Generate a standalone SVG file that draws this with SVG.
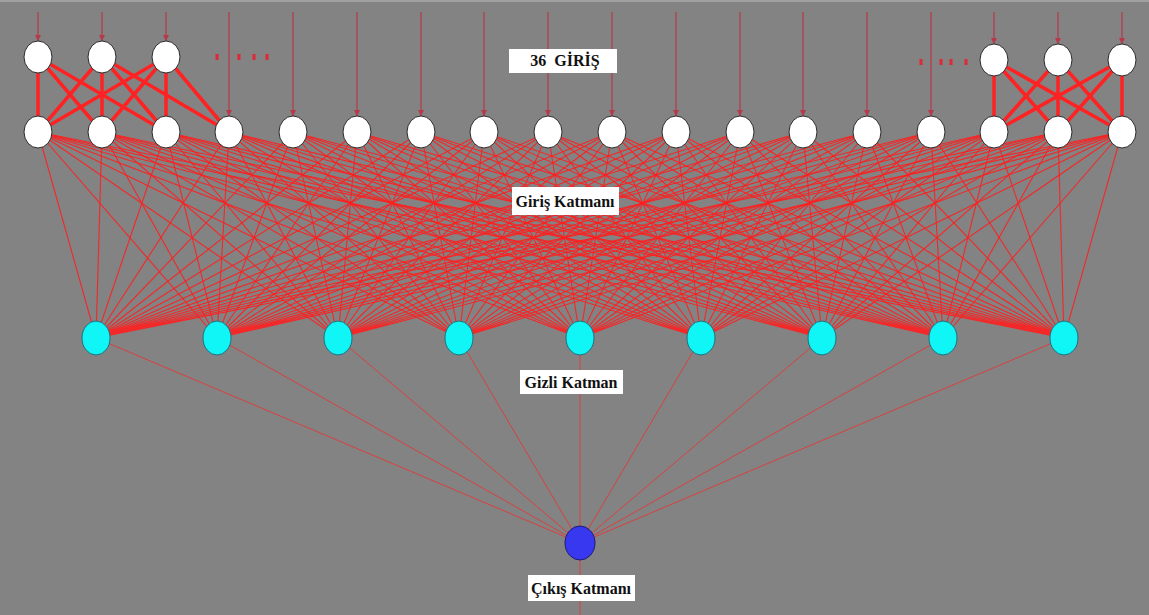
<svg xmlns="http://www.w3.org/2000/svg" width="1149" height="615" viewBox="0 0 1149 615">
  <style>
    .in { stroke: #b83848; stroke-width: 1.2; fill: none; }
    .mesh { stroke: #ff1e1e; stroke-width: 1.1; fill: none; stroke-opacity: 0.9; }
    .out { stroke: #d84040; stroke-width: 1; fill: none; }
    .thick { stroke: #ff2222; stroke-width: 3.5; fill: none; }
    .white { fill: #ffffff; stroke: #2a2a2a; stroke-width: 1; }
    .hidden { fill: #10f6f6; stroke: #1f6f7f; stroke-width: 1; }
    .output { fill: #3838f0; stroke: #1c1c70; stroke-width: 1; }
    .dot { fill: #e02838; }
    .box { fill: #ffffff; }
    .lbl { font-family: "Liberation Serif", "Times New Roman", serif; font-weight: bold; font-size: 16px; fill: #111111; text-anchor: middle; }
  </style>
  <defs>
    <marker id="arrow" viewBox="0 0 6 6" refX="6" refY="3" markerWidth="6" markerHeight="6" markerUnits="userSpaceOnUse" orient="auto">
      <path d="M0 0L6 3L0 6Z" fill="#b83848"/>
    </marker>
  </defs>

  <rect width="1149" height="615" fill="#838383"/>
  <rect width="1149" height="2" fill="#a0a0a0"/>

  <g id="connectors">
    <!-- input arrows into the first row -->
    <g id="input-arrows" class="in" marker-end="url(#arrow)">
      <path d="M38 12V41"/><path d="M102 12V41"/><path d="M166 12V41"/>
      <path d="M994 12V44"/><path d="M1058 12V44"/><path d="M1122 12V44"/>
      <path d="M229 12V116"/><path d="M293 12V116"/><path d="M357 12V116"/><path d="M421 12V116"/>
      <path d="M484 12V116"/><path d="M548 12V116"/><path d="M612 12V116"/><path d="M676 12V116"/>
      <path d="M740 12V116"/><path d="M803 12V116"/><path d="M867 12V116"/><path d="M931 12V116"/>
    </g>

    <!-- input layer to hidden layer, full mesh -->
    <g id="input-hidden" class="mesh">
      <path d="M38 132L96 338M102 132L96 338M166 132L96 338M229 132L96 338M293 132L96 338M357 132L96 338M421 132L96 338M484 132L96 338M548 132L96 338M612 132L96 338M676 132L96 338M740 132L96 338M803 132L96 338M867 132L96 338M931 132L96 338M994 132L96 338M1058 132L96 338M1122 132L96 338"/>
      <path d="M38 132L217 338M102 132L217 338M166 132L217 338M229 132L217 338M293 132L217 338M357 132L217 338M421 132L217 338M484 132L217 338M548 132L217 338M612 132L217 338M676 132L217 338M740 132L217 338M803 132L217 338M867 132L217 338M931 132L217 338M994 132L217 338M1058 132L217 338M1122 132L217 338"/>
      <path d="M38 132L338 338M102 132L338 338M166 132L338 338M229 132L338 338M293 132L338 338M357 132L338 338M421 132L338 338M484 132L338 338M548 132L338 338M612 132L338 338M676 132L338 338M740 132L338 338M803 132L338 338M867 132L338 338M931 132L338 338M994 132L338 338M1058 132L338 338M1122 132L338 338"/>
      <path d="M38 132L459 338M102 132L459 338M166 132L459 338M229 132L459 338M293 132L459 338M357 132L459 338M421 132L459 338M484 132L459 338M548 132L459 338M612 132L459 338M676 132L459 338M740 132L459 338M803 132L459 338M867 132L459 338M931 132L459 338M994 132L459 338M1058 132L459 338M1122 132L459 338"/>
      <path d="M38 132L580 338M102 132L580 338M166 132L580 338M229 132L580 338M293 132L580 338M357 132L580 338M421 132L580 338M484 132L580 338M548 132L580 338M612 132L580 338M676 132L580 338M740 132L580 338M803 132L580 338M867 132L580 338M931 132L580 338M994 132L580 338M1058 132L580 338M1122 132L580 338"/>
      <path d="M38 132L701 338M102 132L701 338M166 132L701 338M229 132L701 338M293 132L701 338M357 132L701 338M421 132L701 338M484 132L701 338M548 132L701 338M612 132L701 338M676 132L701 338M740 132L701 338M803 132L701 338M867 132L701 338M931 132L701 338M994 132L701 338M1058 132L701 338M1122 132L701 338"/>
      <path d="M38 132L822 338M102 132L822 338M166 132L822 338M229 132L822 338M293 132L822 338M357 132L822 338M421 132L822 338M484 132L822 338M548 132L822 338M612 132L822 338M676 132L822 338M740 132L822 338M803 132L822 338M867 132L822 338M931 132L822 338M994 132L822 338M1058 132L822 338M1122 132L822 338"/>
      <path d="M38 132L943 338M102 132L943 338M166 132L943 338M229 132L943 338M293 132L943 338M357 132L943 338M421 132L943 338M484 132L943 338M548 132L943 338M612 132L943 338M676 132L943 338M740 132L943 338M803 132L943 338M867 132L943 338M931 132L943 338M994 132L943 338M1058 132L943 338M1122 132L943 338"/>
      <path d="M38 132L1064 338M102 132L1064 338M166 132L1064 338M229 132L1064 338M293 132L1064 338M357 132L1064 338M421 132L1064 338M484 132L1064 338M548 132L1064 338M612 132L1064 338M676 132L1064 338M740 132L1064 338M803 132L1064 338M867 132L1064 338M931 132L1064 338M994 132L1064 338M1058 132L1064 338M1122 132L1064 338"/>
    </g>

    <!-- hidden layer to output node, and the output lead -->
    <g id="hidden-output" class="out">
      <path d="M96 338L580 543M217 338L580 543M338 338L580 543M459 338L580 543M580 338L580 543M701 338L580 543M822 338L580 543M943 338L580 543M1064 338L580 543"/>
      <path d="M580 543V615"/>
    </g>

    <!-- heavy links between the two upper rows -->
    <g id="top-links" class="thick">
      <path d="M38 57L38 132M38 57L102 132M38 57L166 132"/>
      <path d="M102 57L38 132M102 57L102 132M102 57L166 132M102 57L229 132"/>
      <path d="M166 57L38 132M166 57L102 132M166 57L166 132M166 57L229 132"/>
      <path d="M994 60L994 132M994 60L1058 132M994 60L1122 132"/>
      <path d="M1058 60L994 132M1058 60L1058 132M1058 60L1122 132"/>
      <path d="M1122 60L994 132M1122 60L1058 132M1122 60L1122 132"/>
    </g>
  </g>

  <!-- ellipsis marks -->
  <g id="dots-left" class="dot">
    <rect x="215.5" y="54" width="3" height="6"/>
    <rect x="237.5" y="54" width="3" height="6"/>
    <rect x="252.5" y="54" width="3" height="6"/>
    <rect x="265.5" y="54" width="3" height="6"/>
  </g>
  <g id="dots-right" class="dot">
    <rect x="919.5" y="59" width="3" height="6"/>
    <rect x="939.5" y="59" width="3" height="6"/>
    <rect x="949.5" y="59" width="3" height="6"/>
    <rect x="964.5" y="59" width="3" height="6"/>
  </g>

  <!-- top input row -->
  <g id="top-row">
    <g id="t1"><ellipse class="white" cx="38" cy="57" rx="14" ry="16"/></g>
    <g id="t2"><ellipse class="white" cx="102" cy="57" rx="14" ry="16"/></g>
    <g id="t3"><ellipse class="white" cx="166" cy="57" rx="14" ry="16"/></g>
    <g id="t4"><ellipse class="white" cx="994" cy="60" rx="14" ry="16"/></g>
    <g id="t5"><ellipse class="white" cx="1058" cy="60" rx="14" ry="16"/></g>
    <g id="t6"><ellipse class="white" cx="1122" cy="60" rx="14" ry="16"/></g>
  </g>

  <!-- input layer -->
  <g id="input-layer">
    <g id="i1"><ellipse class="white" cx="38" cy="132" rx="14" ry="16"/></g>
    <g id="i2"><ellipse class="white" cx="102" cy="132" rx="14" ry="16"/></g>
    <g id="i3"><ellipse class="white" cx="166" cy="132" rx="14" ry="16"/></g>
    <g id="i4"><ellipse class="white" cx="229" cy="132" rx="14" ry="16"/></g>
    <g id="i5"><ellipse class="white" cx="293" cy="132" rx="14" ry="16"/></g>
    <g id="i6"><ellipse class="white" cx="357" cy="132" rx="14" ry="16"/></g>
    <g id="i7"><ellipse class="white" cx="421" cy="132" rx="14" ry="16"/></g>
    <g id="i8"><ellipse class="white" cx="484" cy="132" rx="14" ry="16"/></g>
    <g id="i9"><ellipse class="white" cx="548" cy="132" rx="14" ry="16"/></g>
    <g id="i10"><ellipse class="white" cx="612" cy="132" rx="14" ry="16"/></g>
    <g id="i11"><ellipse class="white" cx="676" cy="132" rx="14" ry="16"/></g>
    <g id="i12"><ellipse class="white" cx="740" cy="132" rx="14" ry="16"/></g>
    <g id="i13"><ellipse class="white" cx="803" cy="132" rx="14" ry="16"/></g>
    <g id="i14"><ellipse class="white" cx="867" cy="132" rx="14" ry="16"/></g>
    <g id="i15"><ellipse class="white" cx="931" cy="132" rx="14" ry="16"/></g>
    <g id="i16"><ellipse class="white" cx="994" cy="132" rx="14" ry="16"/></g>
    <g id="i17"><ellipse class="white" cx="1058" cy="132" rx="14" ry="16"/></g>
    <g id="i18"><ellipse class="white" cx="1122" cy="132" rx="14" ry="16"/></g>
  </g>

  <!-- hidden layer -->
  <g id="hidden-layer">
    <g id="h1"><ellipse class="hidden" cx="96" cy="338" rx="14" ry="17"/></g>
    <g id="h2"><ellipse class="hidden" cx="217" cy="338" rx="14" ry="17"/></g>
    <g id="h3"><ellipse class="hidden" cx="338" cy="338" rx="14" ry="17"/></g>
    <g id="h4"><ellipse class="hidden" cx="459" cy="338" rx="14" ry="17"/></g>
    <g id="h5"><ellipse class="hidden" cx="580" cy="338" rx="14" ry="17"/></g>
    <g id="h6"><ellipse class="hidden" cx="701" cy="338" rx="14" ry="17"/></g>
    <g id="h7"><ellipse class="hidden" cx="822" cy="338" rx="14" ry="17"/></g>
    <g id="h8"><ellipse class="hidden" cx="943" cy="338" rx="14" ry="17"/></g>
    <g id="h9"><ellipse class="hidden" cx="1064" cy="338" rx="14" ry="17"/></g>
  </g>

  <!-- output node -->
  <g id="output-node"><ellipse class="output" cx="580" cy="543" rx="15" ry="17"/></g>

  <!-- layer labels -->
  <g id="label-inputs">
    <rect class="box" x="509" y="49" width="108" height="24"/>
    <text class="lbl" x="565" y="66" font-size="17" xml:space="preserve">36  GİRİŞ</text>
  </g>
  <g id="label-input-layer">
    <rect class="box" x="512" y="187" width="107" height="28"/>
    <text class="lbl" x="565" y="207">Giriş Katmanı</text>
  </g>
  <g id="label-hidden-layer">
    <rect class="box" x="520" y="370" width="103" height="24"/>
    <text class="lbl" x="571" y="388">Gizli Katman</text>
  </g>
  <g id="label-output-layer">
    <rect class="box" x="528" y="575" width="107" height="26"/>
    <text class="lbl" x="581" y="594">Çıkış Katmanı</text>
  </g>
</svg>
